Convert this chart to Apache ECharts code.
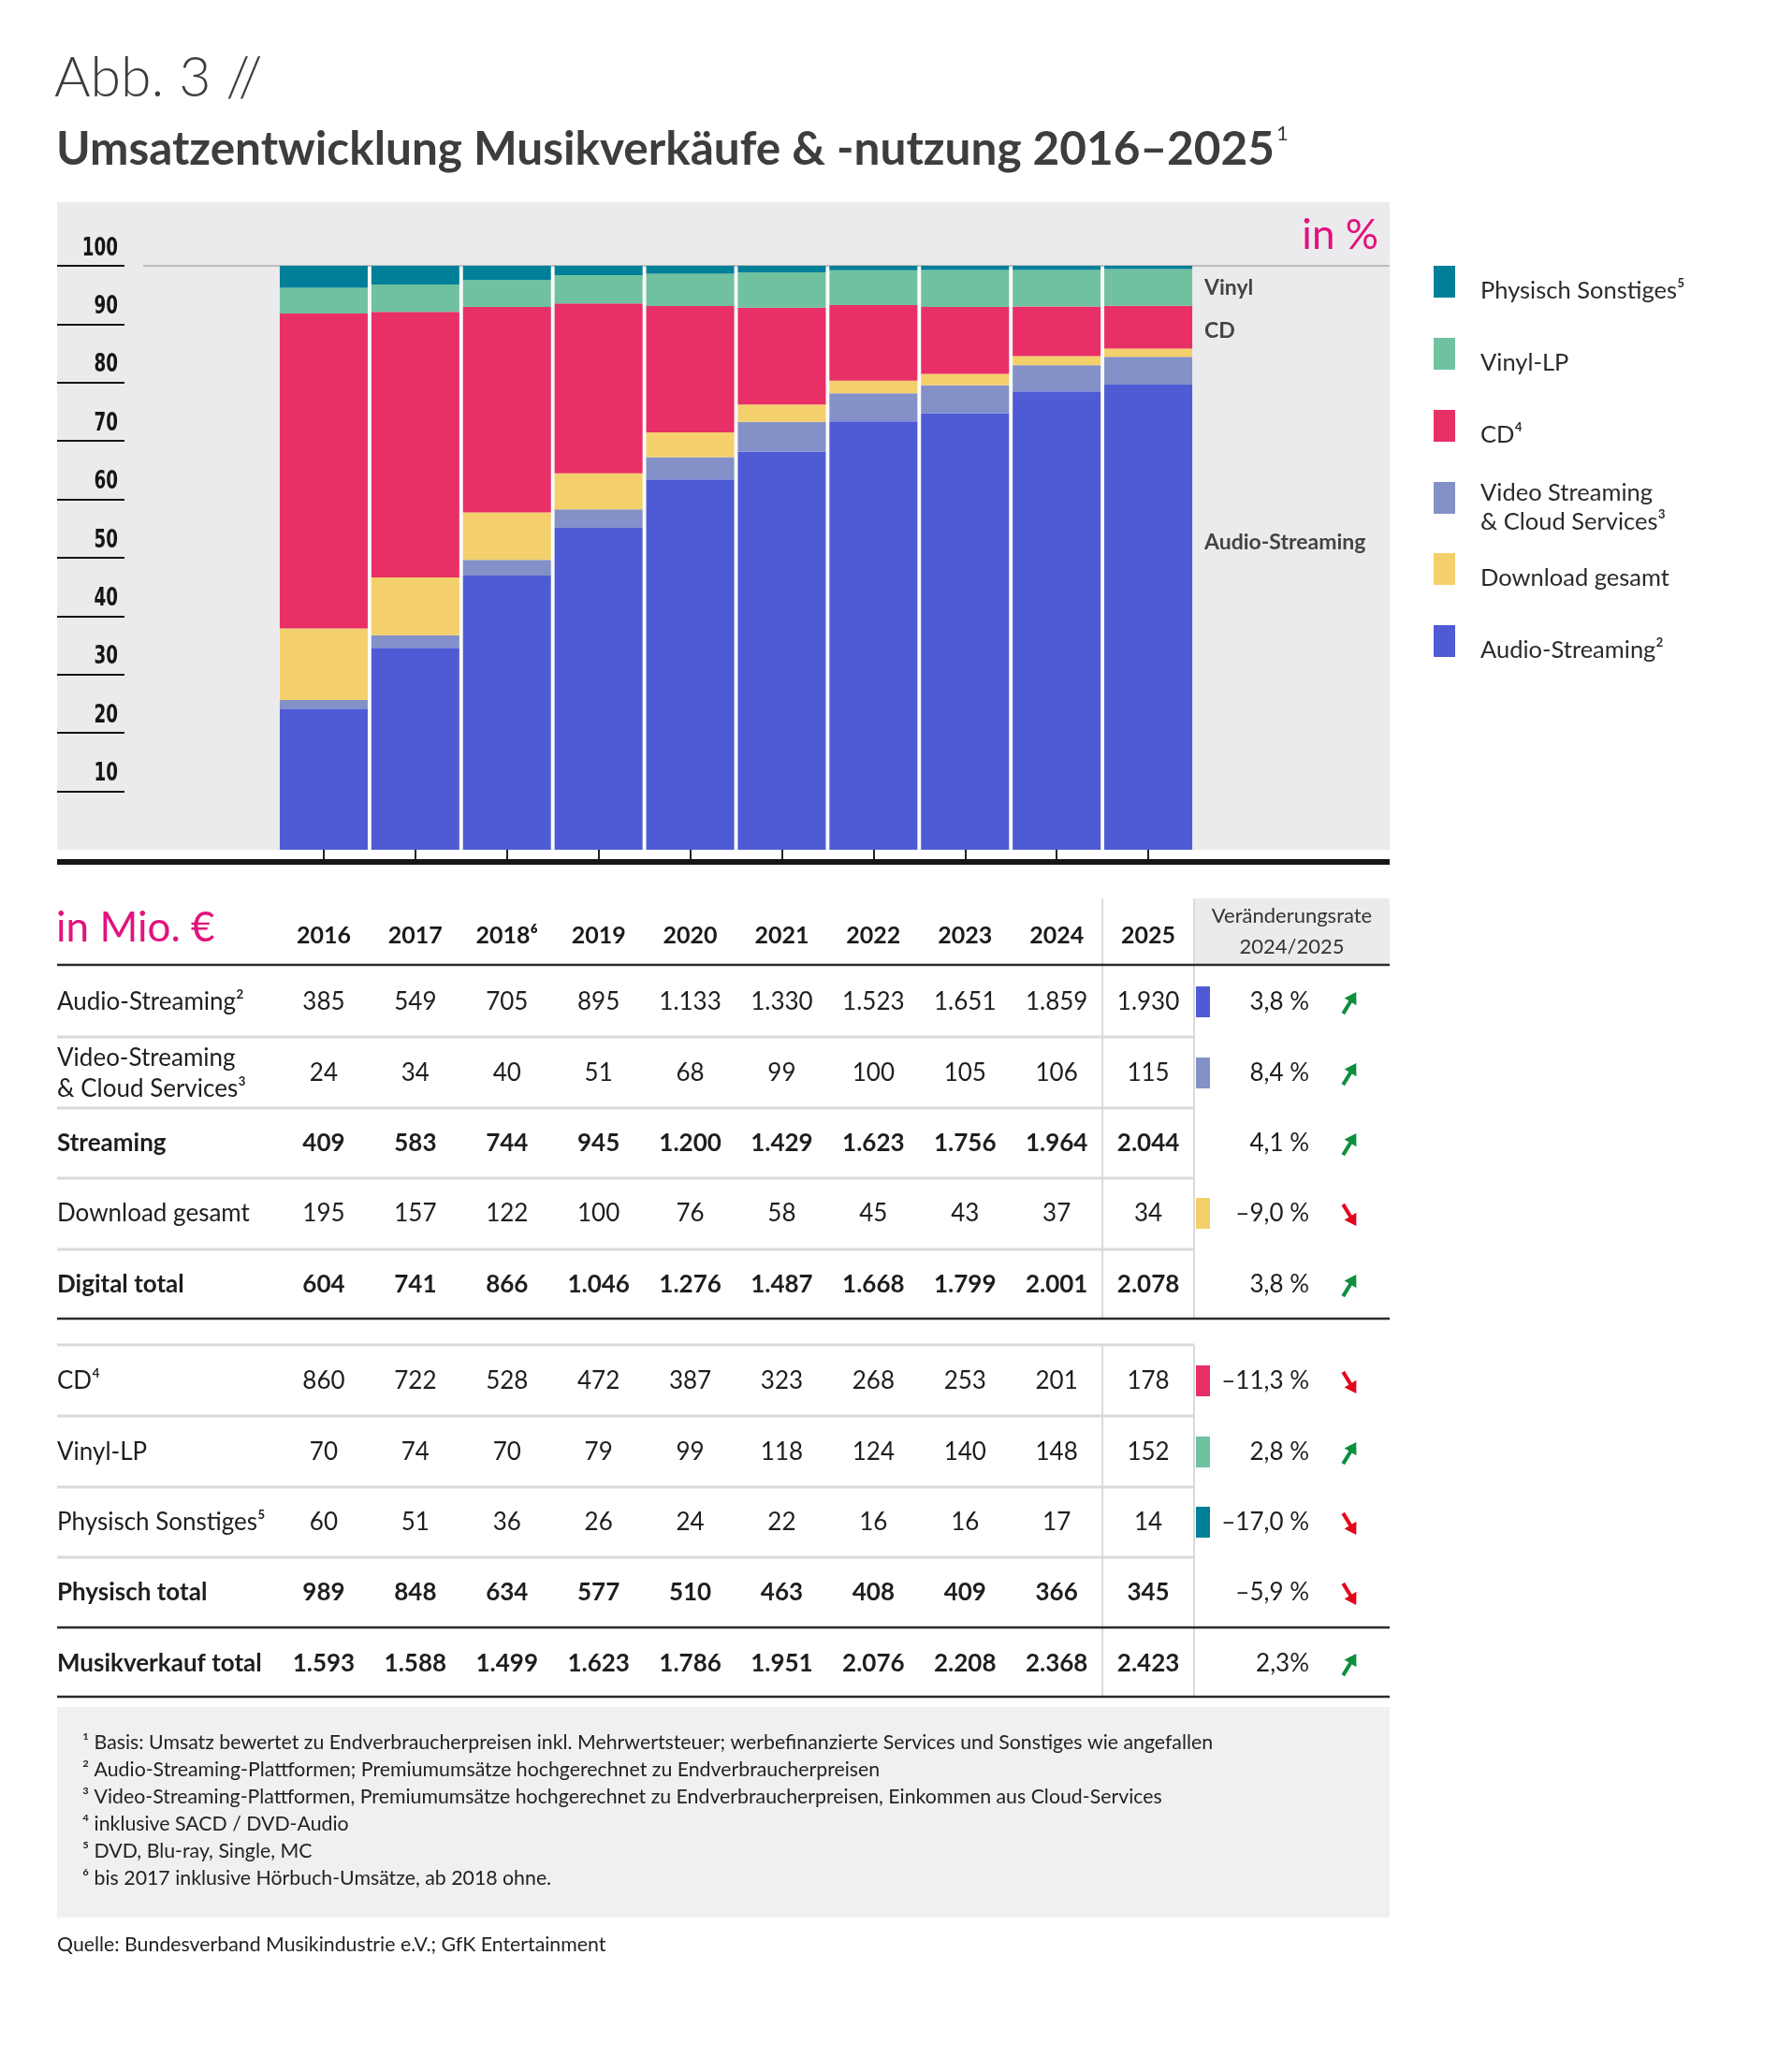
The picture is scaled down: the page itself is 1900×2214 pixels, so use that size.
<!DOCTYPE html>
<html><head><meta charset="utf-8">
<script src="https://cdn.jsdelivr.net/npm/echarts@6/dist/echarts.min.js"></script>
<style>html,body{margin:0;padding:0;background:#fff;}#c{width:1900px;height:2214px;}</style>
</head><body><div id="c"></div>
<script>
// ---------- DATA ----------
const years = ['2016','2017','2018','2019','2020','2021','2022','2023','2024','2025'];
const yearHeaders = ['2016','2017','2018⁶','2019','2020','2021','2022','2023','2024','2025'];
const audioStreaming = [385,549,705,895,1133,1330,1523,1651,1859,1930];
const videoStreaming = [24,34,40,51,68,99,100,105,106,115];
const streamingTotal = [409,583,744,945,1200,1429,1623,1756,1964,2044];
const downloadTotal = [195,157,122,100,76,58,45,43,37,34];
const digitalTotal = [604,741,866,1046,1276,1487,1668,1799,2001,2078];
const cdSales = [860,722,528,472,387,323,268,253,201,178];
const vinylSales = [70,74,70,79,99,118,124,140,148,152];
const physOther = [60,51,36,26,24,22,16,16,17,14];
const physTotal = [989,848,634,577,510,463,408,409,366,345];
const musicTotal = [1593,1588,1499,1623,1786,1951,2076,2208,2368,2423];
const changeRates = ['3,8 %','8,4 %','4,1 %','–9,0 %','3,8 %','–11,3 %','2,8 %','–17,0 %','–5,9 %','2,3%'];
const changeUp = [true,true,true,false,true,false,true,false,false,true];
const yTickValues = [0,10,20,30,40,50,60,70,80,90,100];

// ---------- STYLE ----------
const FONT = 'Lato, "Open Sans", sans-serif';
const COND = '"DejaVu Sans", sans-serif';
const C = {audio:'#4f5bd5', video:'#8391c8', download:'#f4d06c', cd:'#e83066', vinyl:'#70c1a0', other:'#007f99'};
const MAGENTA = '#e2127e';

// shares (100% stacked) from the table values
const comps = [audioStreaming, videoStreaming, downloadTotal, cdSales, vinylSales, physOther];
const sums = years.map((_, i) => comps.reduce((s, a) => s + a[i], 0));
const share = arr => arr.map((v, i) => v / sums[i] * 100);

const fmt = n => n >= 1000 ? Math.floor(n / 1000) + '.' + String(n % 1000).padStart(3, '0') : String(n);

const chart = echarts.init(document.getElementById('c'), null, {renderer:'canvas'});
const GRID = {left:297, top:284, width:979, height:624};
const BAR_W = 94;

const mkSeries = (name, data, color) => ({
  name, type:'bar', stack:'s', data: share(data), barWidth: BAR_W, silent:true,
  itemStyle:{color}, xAxisIndex:0, yAxisIndex:0, z:2
});

chart.setOption({
  animation:false,
  backgroundColor:'#ffffff',
  grid:[
    {left:GRID.left, top:GRID.top, width:GRID.width, height:GRID.height},
    {left:61, top:GRID.top, width:72, height:GRID.height}
  ],
  xAxis:[
    {type:'category', data:years, gridIndex:0, position:'bottom', offset:16,
     axisLine:{show:false}, axisLabel:{show:false},
     axisTick:{show:true, alignWithLabel:true, length:15, lineStyle:{color:'#222', width:2}}},
    {type:'value', gridIndex:1, show:false, min:0, max:1}
  ],
  yAxis:[
    {type:'value', gridIndex:0, min:0, max:100, show:false},
    {type:'value', gridIndex:1, min:0, max:100, interval:10, position:'right',
     axisLine:{show:false}, axisTick:{show:false}, axisLabel:{show:false},
     splitLine:{show:true, lineStyle:{width:2, color: yTickValues.map(v => v === 0 ? 'rgba(0,0,0,0)' : '#151515')}}}
  ],
  series:[
    mkSeries('Audio-Streaming', audioStreaming, C.audio),
    mkSeries('Video Streaming & Cloud Services', videoStreaming, C.video),
    mkSeries('Download gesamt', downloadTotal, C.download),
    mkSeries('CD', cdSales, C.cd),
    mkSeries('Vinyl-LP', vinylSales, C.vinyl),
    mkSeries('Physisch Sonstiges', physOther, C.other)
  ]
});

// ---------- positions from the axes ----------
const cx = years.map((y, i) => chart.convertToPixel({xAxisIndex:0}, i));
const yPix = v => chart.convertToPixel({yAxisIndex:0}, v);
const yTickPix = v => chart.convertToPixel({yAxisIndex:1}, v);
const y0 = yPix(0), y100 = yPix(100);
const gridRight = GRID.left + GRID.width;
const colSplit = (cx[8] + cx[9]) / 2;

const G = [];
const txt = (x, y, text, o = {}, extra = {}) => G.push(Object.assign({type:'text', x, y, z:20, silent:true, style:Object.assign({
  text, fill:'#222', fontFamily:FONT, fontSize:26, fontWeight:'normal', align:'left', verticalAlign:'middle'}, o)}, extra));
const rect = (x, y, w, h, fill, z = 0) => G.push({type:'rect', z, silent:true, shape:{x, y, width:w, height:h}, style:{fill}});
const line = (x1, y1, x2, y2, stroke, w, z = 5) => G.push({type:'line', z, silent:true, shape:{x1, y1, x2, y2}, style:{stroke, lineWidth:w}});

// Panel & background
const PANEL_L = 61, PANEL_R = 1485;
rect(PANEL_L, 216, PANEL_R - PANEL_L, y0 - 216, '#ebebed', -10);
rect(cx[0] - BAR_W / 2, y100, cx[9] - cx[0] + BAR_W, y0 - y100, '#fbfbfb', -5);
line(153, y100, PANEL_R, y100, '#bdbdbd', 2, -4);
// thick baseline
line(PANEL_L, y0 + 13, PANEL_R, y0 + 13, '#161616', 6, 6);

// y tick labels (condensed bold), placed with the tick axis scale
yTickValues.filter(v => v > 0).forEach(v => {
  txt(0, 0, String(v), {fontFamily:COND, fontWeight:'bold', fontSize:27, fill:'#151515', align:'right', verticalAlign:'bottom'},
      {x:126, y:yTickPix(v) - 5, scaleX:0.68});
});

// Titles
txt(58, 84, 'Abb. 3 //', {fontSize:59, fontWeight:300, fill:'#3d3d3d'});
G.push({type:'text', x:60, y:160, z:20, silent:true, style:{
  text:'{t|Umsatzentwicklung Musikverkäufe & -nutzung 2016–2025}{s|1}',
  verticalAlign:'middle', align:'left',
  rich:{
    t:{fontFamily:FONT, fontSize:49.5, fontWeight:'bold', fill:'#3d3d3d', lineHeight:56},
    s:{fontFamily:FONT, fontSize:22, fontWeight:'normal', fill:'#3d3d3d', verticalAlign:'top', lineHeight:56, padding:[0,0,0,2]}
  }}});
txt(1473, 252, 'in %', {fontSize:44, fill:MAGENTA, align:'right'});

// labels inside chart
txt(1287, 308, 'Vinyl', {fontSize:23, fontWeight:'bold', fill:'#444'});
txt(1287, 354, 'CD', {fontSize:23, fontWeight:'bold', fill:'#444'});
txt(1287, 580, 'Audio-Streaming', {fontSize:23, fontWeight:'bold', fill:'#444'});

// Legend
const legendItems = [
  ['Physisch Sonstiges⁵', C.other], ['Vinyl-LP', C.vinyl], ['CD⁴', C.cd],
  ['Video Streaming\n& Cloud Services³', C.video], ['Download gesamt', C.download], ['Audio-Streaming²', C.audio]
];
const legTops = [284, 361, 438, 515, 591, 668];
legendItems.forEach(([name, col], i) => {
  rect(1532, legTops[i], 23, 34, col, 10);
  txt(1582, legTops[i] + 27, name, {fontSize:25.5, fill:'#2a2a2a', lineHeight:31});
});

// ---------- TABLE ----------
const HEAD_Y = 1000;
txt(60, 992, 'in Mio. €', {fontSize:44, fill:MAGENTA});
yearHeaders.forEach((h, i) => txt(cx[i], HEAD_Y, h, {fontSize:25, fontWeight:'bold', align:'center', fill:'#1a1a1a'}));
rect(gridRight, 960, PANEL_R - gridRight, 71, '#ebebeb', 0);
txt((gridRight + PANEL_R) / 2, 979, 'Veränderungsrate', {fontSize:22, align:'center', fill:'#333'});
txt((gridRight + PANEL_R) / 2, 1012, '2024/2025', {fontSize:22, align:'center', fill:'#333'});

const rows = [
  {label:'Audio-Streaming²', data:audioStreaming, bold:false, color:C.audio, rate:0},
  {label:'Video-Streaming\n& Cloud Services³', data:videoStreaming, bold:false, color:C.video, rate:1},
  {label:'Streaming', data:streamingTotal, bold:true, color:null, rate:2},
  {label:'Download gesamt', data:downloadTotal, bold:false, color:C.download, rate:3},
  {label:'Digital total', data:digitalTotal, bold:true, color:null, rate:4},
  {label:'CD⁴', data:cdSales, bold:false, color:C.cd, rate:5},
  {label:'Vinyl-LP', data:vinylSales, bold:false, color:C.vinyl, rate:6},
  {label:'Physisch Sonstiges⁵', data:physOther, bold:false, color:C.other, rate:7},
  {label:'Physisch total', data:physTotal, bold:true, color:null, rate:8},
  {label:'Musikverkauf total', data:musicTotal, bold:true, color:null, rate:9}
];
const rowY = [1071, 1147, 1222, 1297, 1373, 1476, 1552, 1627, 1702, 1778];

const arrow = (x, y, up) => {
  const col = up ? '#0e8f3e' : '#e3061a';
  const d = up ? [0.52, -0.854] : [0.52, 0.854];
  const n = [0.854 * (up ? 1 : -1), 0.52];
  const T = [x + 14 * d[0], y + 14 * d[1]];
  const S = [x - 13 * d[0], y - 13 * d[1]];
  const B = [T[0] - 12 * d[0], T[1] - 12 * d[1]];
  line(S[0], S[1], B[0] + d[0], B[1] + d[1], col, 4, 12);
  G.push({type:'polygon', z:12, silent:true, shape:{points:[T, [B[0] + 7.5 * n[0], B[1] + 7.5 * n[1]], [B[0] - 7.5 * n[0], B[1] - 7.5 * n[1]]]}, style:{fill:col}});
};

rows.forEach((r, k) => {
  const y = rowY[k];
  const w = r.bold ? 'bold' : 'normal';
  txt(61, y, r.label, {fontSize:26, fontWeight:w, fill:'#1e1e1e', lineHeight:33});
  r.data.forEach((v, i) => txt(cx[i], y, fmt(v), {fontSize:26, fontWeight:w, align:'center', fill:'#1e1e1e'}));
  if (r.color) rect(gridRight + 2, y - 17, 15, 33, r.color, 10);
  txt(1399, y, changeRates[r.rate], {fontSize:26, align:'right', fill:'#1e1e1e'});
  arrow(1442, y + 1, changeUp[r.rate]);
});

// table rules
const LIGHT = '#dadada', DARK = '#2b2b2b';
line(PANEL_L, 1031, PANEL_R, 1031, DARK, 2.5);
[1108, 1184, 1259, 1335].forEach(y => line(PANEL_L, y, gridRight, y, LIGHT, 3));
line(PANEL_L, 1409, PANEL_R, 1409, DARK, 2.5);
[1437, 1513, 1589, 1664].forEach(y => line(PANEL_L, y, gridRight, y, LIGHT, 3));
line(PANEL_L, 1739, PANEL_R, 1739, DARK, 2.5);
line(PANEL_L, 1813, PANEL_R, 1813, DARK, 2.5);
[colSplit, gridRight].forEach(x => {
  line(x, 960, x, 1408, LIGHT, 2, 4);
  line(x, 1437, x, 1812, LIGHT, 2, 4);
});

// Footnotes
rect(PANEL_L, 1824, PANEL_R - PANEL_L, 225, '#f0f0f0', 0);
const notes = [
  '¹ Basis: Umsatz bewertet zu Endverbraucherpreisen inkl. Mehrwertsteuer; werbefinanzierte Services und Sonstiges wie angefallen',
  '² Audio-Streaming-Plattformen; Premiumumsätze hochgerechnet zu Endverbraucherpreisen',
  '³ Video-Streaming-Plattformen, Premiumumsätze hochgerechnet zu Endverbraucherpreisen, Einkommen aus Cloud-Services',
  '⁴ inklusive SACD / DVD-Audio',
  '⁵ DVD, Blu-ray, Single, MC',
  '⁶ bis 2017 inklusive Hörbuch-Umsätze, ab 2018 ohne.'
];
notes.forEach((t, i) => txt(88, 1862 + i * 29, t, {fontSize:21.3, fill:'#222'}));
txt(61, 2078, 'Quelle: Bundesverband Musikindustrie e.V.; GfK Entertainment', {fontSize:21.3, fill:'#222'});

chart.setOption({graphic:{elements:G}});
</script></body></html>
